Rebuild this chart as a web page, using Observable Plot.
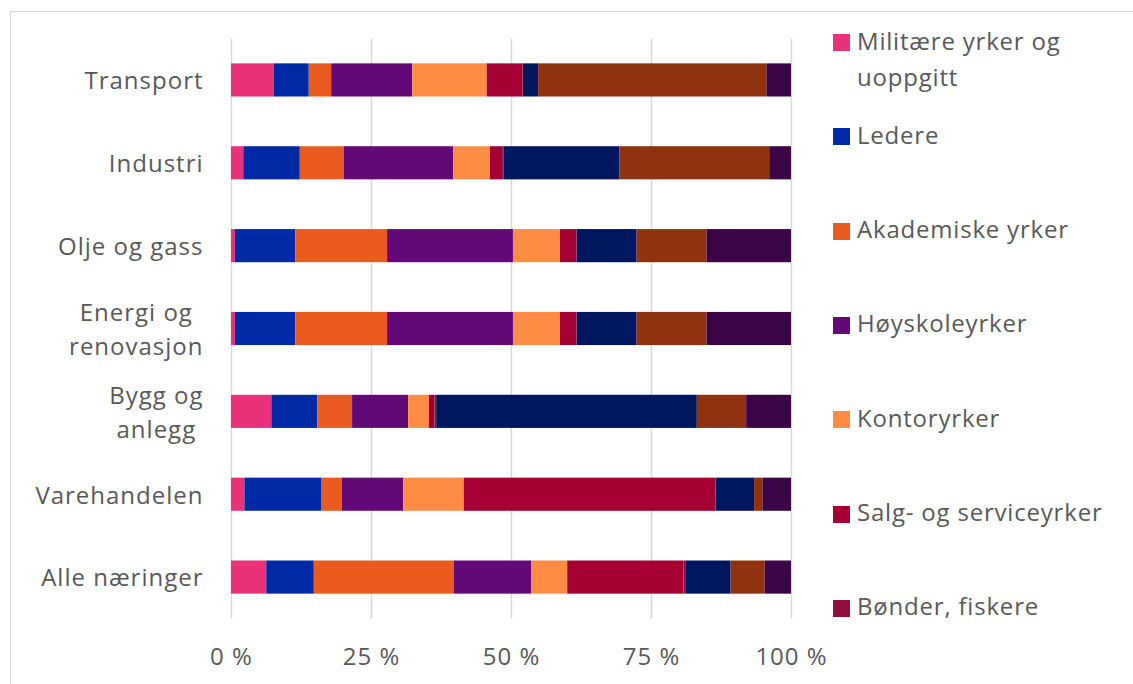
<!DOCTYPE html>
<html>
<head>
<meta charset="utf-8">
<script src="https://cdn.jsdelivr.net/npm/d3@7"></script>
<script src="https://cdn.jsdelivr.net/npm/@observablehq/plot@0.6"></script>
<style>
  html, body { margin: 0; padding: 0; background: #fff; overflow: hidden; }
  #wrap { position: relative; width: 1133px; height: 684px; overflow: hidden; font-family: "Open Sans", sans-serif; color: #595959; }
  #frame { position: absolute; left: 10px; top: 11px; width: 1200px; height: 800px; border: 1.5px solid #d9d9d9; box-sizing: border-box; }
  #chart { position: absolute; left: 0; top: 0; }
  #chart svg text { letter-spacing: 1px; }
  .leg { position: absolute; left: 833px; width: 295px; }
  .leg .sw { position: absolute; left: 0; top: 11.5px; width: 17px; height: 17px; }
  .leg .lab { position: absolute; left: 24px; top: 0; width: 270px; font-size: 24px; line-height: 36px; letter-spacing: 0.8px; }
</style>
</head>
<body>
<div id="wrap">
  <div id="frame"></div>
  <div id="chart"></div>
  <div id="legend"></div>
</div>
<script>
// Industries (top to bottom)
const industries = ["Transport", "Industri", "Olje og gass", "Energi og renovasjon", "Bygg og anlegg", "Varehandelen", "Alle næringer"];
const industryLabels = ["Transport", "Industri", "Olje og gass", "Energi og\nrenovasjon", "Bygg og\nanlegg", "Varehandelen", "Alle næringer"];

// Occupation groups (stack order, left to right)
const occupations = [
  "Militære yrker og uoppgitt",
  "Ledere",
  "Akademiske yrker",
  "Høyskoleyrker",
  "Kontoryrker",
  "Salg- og serviceyrker",
  "Bønder, fiskere",
  "Håndverkere",
  "Operatører og sjåfører",
  "Renholdere og hjelpearbeidere"
];
const colors = ["#E9327A", "#0029A5", "#EA5B1F", "#640A78", "#FF8C45", "#A50034", "#8F1040", "#001760", "#8F3210", "#3C0545"];

// Shares (%) per occupation, in industry order
const militaere   = [7.6, 2.2, 0.7, 0.7, 7.2, 2.4, 6.3];
const ledere      = [6.3, 10.1, 10.8, 10.8, 8.2, 13.8, 8.5];
const akademiske  = [4.0, 7.9, 16.4, 16.4, 6.2, 3.6, 25.0];
const hoyskole    = [14.5, 19.5, 22.5, 22.5, 10.0, 11.0, 13.9];
const kontor      = [13.3, 6.6, 8.4, 8.4, 3.7, 10.8, 6.4];
const salg        = [6.4, 2.3, 2.9, 2.9, 1.0, 45.0, 20.8];
const bonder      = [0.1, 0.1, 0.1, 0.1, 0.3, 0.1, 0.3];
const handverkere = [2.7, 20.7, 10.7, 10.7, 46.5, 6.8, 8.1];
const operatorer  = [40.8, 26.8, 12.5, 12.5, 8.8, 1.5, 6.1];
const andre       = [4.4, 3.9, 15.1, 15.1, 8.0, 5.1, 4.7];

const series = [militaere, ledere, akademiske, hoyskole, kontor, salg, bonder, handverkere, operatorer, andre];

// Legend shows only the first seven groups (as in the reference)
const legendCount = 7;

const xTicks = [0, 0.25, 0.5, 0.75, 1];

const data = [];
industries.forEach((ind, i) => {
  occupations.forEach((occ, j) => {
    data.push({industry: ind, occupation: occ, value: series[j][i]});
  });
});

const labelOf = new Map(industries.map((d, i) => [d, industryLabels[i]]));

const chart = Plot.plot({
  width: 820,
  height: 684,
  marginLeft: 231,
  marginRight: 29,
  marginTop: 38.5,
  marginBottom: 65.5,
  style: {fontFamily: "Open Sans, sans-serif", color: "#595959", background: "transparent", overflow: "visible"},
  x: {domain: [0, 1], ticks: xTicks, tickFormat: d => `${Math.round(d * 100)} %`},
  y: {domain: industries, paddingInner: 0.6, paddingOuter: 0.3, round: false},
  color: {domain: occupations, range: colors},
  marks: [
    Plot.gridX(xTicks, {stroke: "#d9d9d9", strokeOpacity: 1, strokeWidth: 1.5}),
    Plot.barX(data, Plot.stackX({
      x: "value", y: "industry", fill: "occupation", offset: "normalize", order: occupations
    })),
    Plot.axisX({ticks: xTicks, tickFormat: d => `${Math.round(d * 100)} %`, tickSize: 0, tickPadding: 29, fontSize: 24, fill: "#595959", label: null}),
    Plot.axisY({tickSize: 0, tickPadding: 28, dy: -2, fontSize: 24, fill: "#595959", lineHeight: 1.42, tickFormat: d => labelOf.get(d), label: null})
  ]
});
document.getElementById("chart").appendChild(chart);

// Center the lines of multi-line category labels within their right-aligned block
chart.querySelectorAll('g[aria-label="y-axis tick label"] text').forEach(t => {
  const spans = t.querySelectorAll("tspan");
  if (spans.length < 2) return;
  const widths = Array.from(spans, s => s.getComputedTextLength());
  const maxW = Math.max(...widths);
  t.setAttribute("text-anchor", "middle");
  spans.forEach(s => {
    const x0 = +(s.getAttribute("x") || 0);
    s.setAttribute("x", x0 - maxW / 2);
  });
});

// Legend
const legend = document.getElementById("legend");
occupations.slice(0, legendCount).forEach((occ, i) => {
  const item = document.createElement("div");
  item.className = "leg";
  item.style.top = (22.5 + i * 94.3) + "px";
  const sw = document.createElement("div");
  sw.className = "sw";
  sw.style.background = colors[i];
  const lab = document.createElement("div");
  lab.className = "lab";
  lab.textContent = occ;
  item.appendChild(sw);
  item.appendChild(lab);
  legend.appendChild(item);
});
</script>
</body>
</html>
